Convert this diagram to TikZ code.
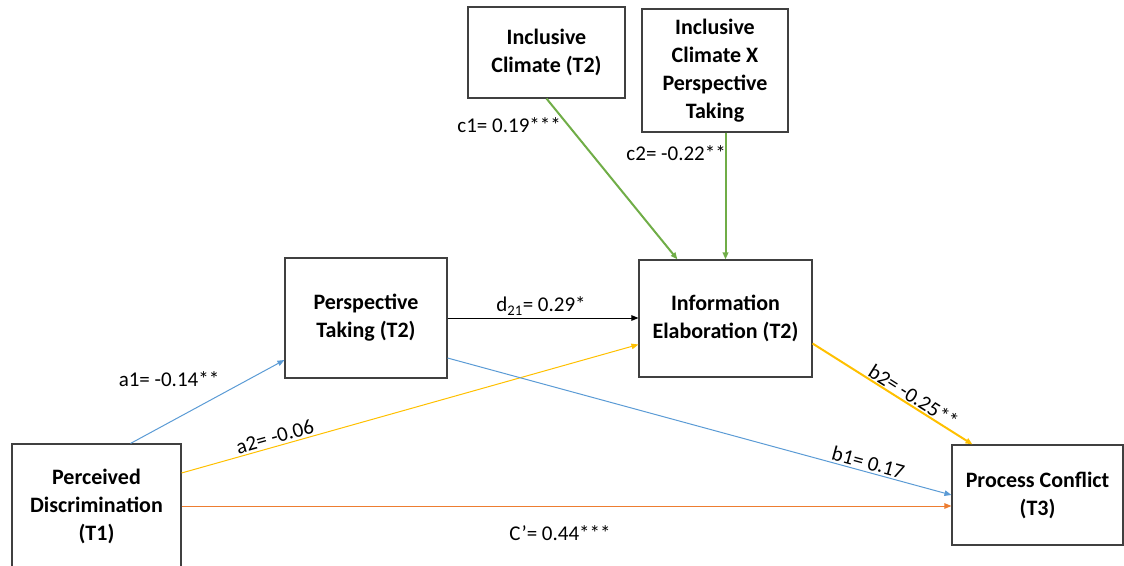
\documentclass[tikz,border=0pt]{standalone}
\usepackage{fontspec}
\setmainfont{Carlito}
\usetikzlibrary{arrows.meta,calc}
\definecolor{cK}{HTML}{404040}
\definecolor{cB}{HTML}{5B9BD5}
\definecolor{cY}{HTML}{FFC000}
\definecolor{cO}{HTML}{ED7D31}
\definecolor{cG}{HTML}{70AD47}

\begin{document}
\begin{tikzpicture}[x=1pt,y=-1pt,
  varbox/.style={draw=cK,line width=1.1pt,align=center,inner sep=0pt,
    font=\bfseries\fontsize{22}{28}\selectfont},
  lnk/.style={-{Triangle[length=7pt,width=5.5pt]},line width=1pt},
  lab/.style={text=black,font=\fontsize{21}{25}\selectfont,inner sep=2pt}]
  \useasboundingbox (0,0) rectangle (1124,565);
  \node[varbox,minimum width=169pt,minimum height=124pt] (pd) at (96.5,506){Perceived\\Discrimination\\(T1)};
  \node[varbox,minimum width=162pt,minimum height=120pt] (pt) at (366,318){Perspective\\Taking (T2)};
  \node[varbox,minimum width=173pt,minimum height=117pt] (ie) at (725.5,318.5){Information\\Elaboration (T2)};
  \node[varbox,minimum width=157pt,minimum height=91pt] (ic) at (546.5,52.5){Inclusive\\Climate (T2)};
  \node[varbox,minimum width=146pt,minimum height=123pt] (icx) at (715,70.5){Inclusive\\Climate X\\Perspective\\Taking};
  \node[varbox,minimum width=171pt,minimum height=100pt] (pc) at (1037.5,495){Process Conflict\\(T3)};

  \draw[lnk,cG,line width=2pt] (ic.south) -- ([xshift=39pt]ie.north west);
  \draw[lnk,cG,line width=2pt] (icx.south -| ie.north) -- (ie.north);
  \draw[lnk,cB] ([xshift=34pt]pd.north) -- ([yshift=-42pt]pt.west);
  \draw[lnk,cY] ([yshift=33pt]pd.east) -- node[lab,sloped,above,pos=0.21] (la2){a2= -0.06} ([yshift=-26pt]ie.west);
  \draw[lnk,black] (pt.east) -- (pt.east -| ie.west);
  \draw[lnk,cB] ([yshift=-40pt]pt.east) -- node[lab,sloped,above,pos=0.83] (lb1){b1= 0.17} (pc.west);
  \draw[lnk,cY,line width=2pt] ([yshift=-25pt]ie.east) -- node[lab,sloped,above,pos=0.6,inner sep=1pt] (lb2){b2= -0.25**} ([xshift=-65pt]pc.north);
  \draw[lnk,cO] (pd.east) -- (pd.east -| pc.west);

  \node[lab] (la1) at (169,379){a1= -0.14**};
  \node[lab] (ld) at (541,306){d\textsubscript{21}= 0.29*};
  \node[lab,anchor=east] (lc1) at (563,125){c1= 0.19***};
  \node[lab,anchor=east] (lc2) at (728,153){c2= -0.22**};
  \node[lab] (lcp) at (560,533){C’= 0.44***};
\end{tikzpicture}
\end{document}
